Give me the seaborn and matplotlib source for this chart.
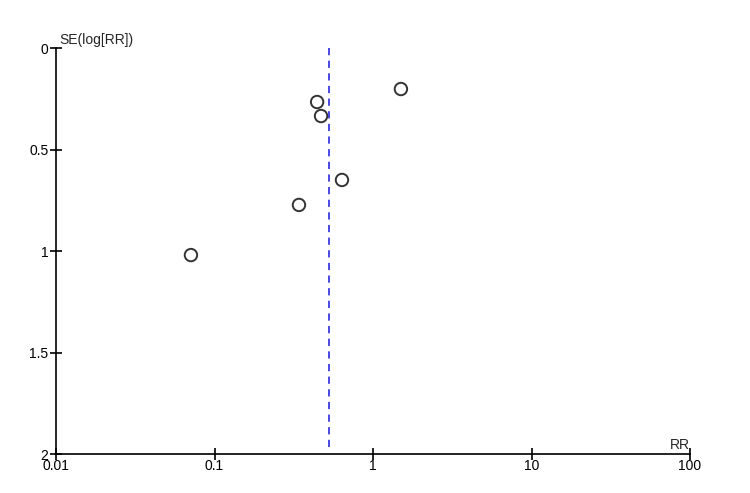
import pandas as pd
import matplotlib.pyplot as plt
import seaborn as sns

# Study estimates
rr = [1.50, 0.444, 0.470, 0.637, 0.341, 0.071]
se = [0.202, 0.266, 0.335, 0.650, 0.773, 1.020]
pooled_rr = 0.527

x_ticks = [0.01, 0.1, 1, 10, 100]
x_labels = ['0.01', '0.1', '1', '10', '100']
y_ticks = [0, 0.5, 1, 1.5, 2]
y_labels = ['0', '0.5', '1', '1.5', '2']

df = pd.DataFrame({'RR': rr, 'SE': se})

sns.set_style('white')
plt.rcParams['font.family'] = ['Liberation Sans', 'DejaVu Sans']

fig = plt.figure(figsize=(7.5, 4.93), dpi=100)
ax = fig.add_axes([0.0747, 0.0791, 0.8453, 0.8235])

sns.scatterplot(data=df, x='RR', y='SE', ax=ax, marker='o', s=80,
                facecolor='none', edgecolor='#333333', linewidth=1.4, zorder=3)

ax.plot([pooled_rr, pooled_rr], [0, 1.985], color='#3a3ae0', linestyle=(0, (4, 3)),
        linewidth=1.3, zorder=2)

ax.set_xscale('log')
ax.set_xlim(0.01, 100)
ax.set_ylim(2, 0)
ax.set_xticks(x_ticks)
ax.set_xticklabels(x_labels)
ax.xaxis.set_minor_locator(plt.NullLocator())
ax.set_yticks(y_ticks)
ax.set_yticklabels(y_labels)
ax.tick_params(axis='both', which='major', bottom=True, left=True,
               direction='inout', length=9, width=1.2, labelsize=10,
               colors='black')
ax.tick_params(axis='x', pad=-1)
ax.tick_params(axis='y', pad=1)
ax.set_xlabel('')
ax.set_ylabel('')

for side in ['top', 'right']:
    ax.spines[side].set_visible(False)
for side in ['left', 'bottom']:
    ax.spines[side].set_color('black')
    ax.spines[side].set_linewidth(1.2)

ax.text(0.0105, -0.005, 'SE(log[RR])', fontsize=10, ha='left', va='bottom')
ax.text(100, 1.99, 'RR', fontsize=10, ha='right', va='bottom')

plt.savefig('out.png', dpi=100)
